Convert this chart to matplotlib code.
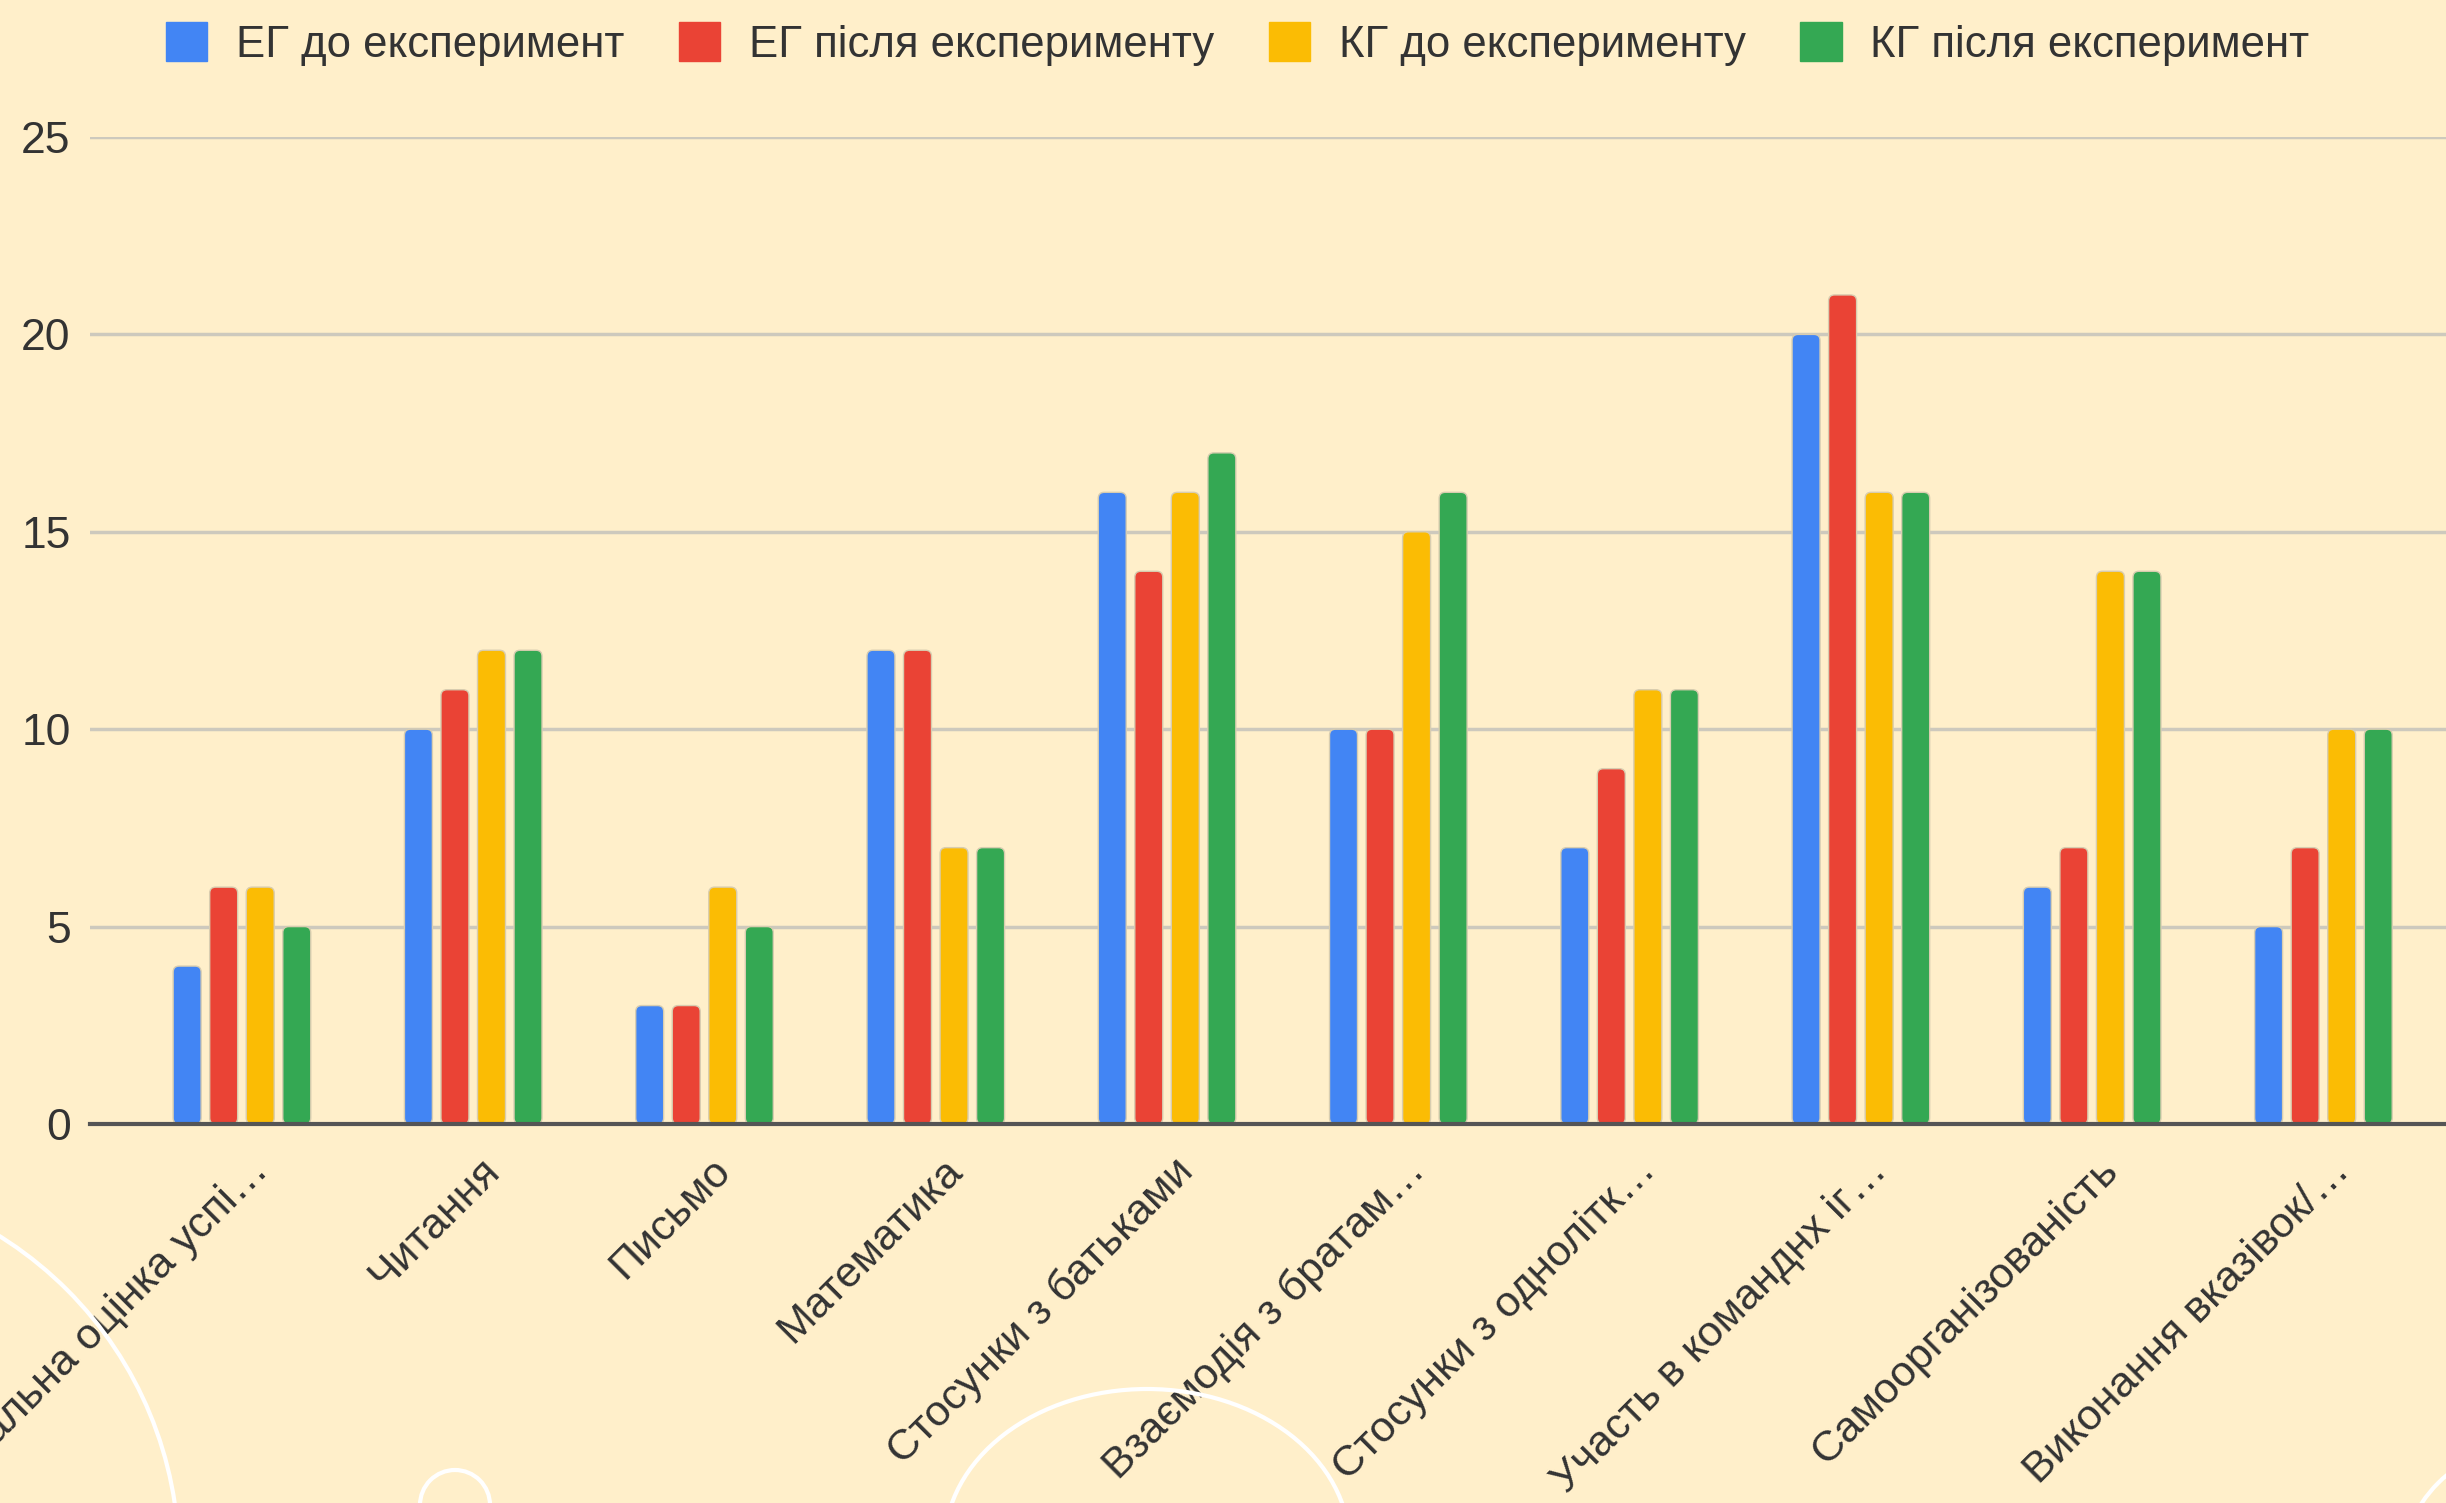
import matplotlib
matplotlib.use("Agg")
import matplotlib.pyplot as plt
import matplotlib.transforms as mtransforms
from matplotlib.patches import FancyBboxPatch, Arc
import numpy as np

categories = [
    "Загальна оцінка успі…",
    "Читання",
    "Письмо",
    "Математика",
    "Стосунки з батьками",
    "Взаємодія з братам…",
    "Стосунки з однолітк…",
    "Участь в командн\u0445 іг…",
    "Самоорганізованість",
    "Виконання вказівок/…",
]
series_names = ["ЕГ до експеримент", "ЕГ після експерименту",
                "КГ до експерименту", "КГ після експеримент"]
eg_before = [4, 10, 3, 12, 16, 10, 7, 20, 6, 5]
eg_after = [6, 11, 3, 12, 14, 10, 9, 21, 7, 7]
kg_before = [6, 12, 6, 7, 16, 15, 11, 16, 14, 10]
kg_after = [5, 12, 5, 7, 17, 16, 11, 16, 14, 10]
y_ticks = [0, 5, 10, 15, 20, 25]

colors = ["#4285F4", "#EA4335", "#FBBC04", "#34A853"]
bg = "#FFEFCA"

plt.rcParams['font.family'] = ['Liberation Sans', 'DejaVu Sans']

W, H = 2446, 1503
fig = plt.figure(figsize=(W / 100, H / 100), dpi=100, facecolor=bg)
ax_left = 90 / W
ax_bottom = 1 - 1124 / H
ax_top = 1 - 137 / H
ax = fig.add_axes([ax_left, ax_bottom, 1 - ax_left, ax_top - ax_bottom])
ax.set_facecolor(bg)

x = np.arange(len(categories))
bw = 0.121
step = 0.158
offsets = [-1.5 * step, -0.5 * step, 0.5 * step, 1.5 * step]
all_series = [eg_before, eg_after, kg_before, kg_after]

ax.set_xlim(-0.657, 9.53)
ax.set_ylim(0, 25)

# pixel scale for rounded corners
px_x = (ax.get_position().width * W) / (9.53 + 0.657)
px_y = (ax.get_position().height * H) / 25
rad = 6 / px_x
aspect = (6 / px_y) / rad

for vals, off, c, name in zip(all_series, offsets, colors, series_names):
    bars = ax.bar(x + off, vals, width=bw, color=c, label=name, zorder=3)
    for r in bars:
        r.set_visible(False)
        p = FancyBboxPatch((r.get_x(), r.get_y()), r.get_width(), r.get_height(),
                           boxstyle=f"round,pad=0,rounding_size={rad}",
                           mutation_aspect=aspect, facecolor=c,
                           edgecolor="#d8cdb0", linewidth=1.0, zorder=3)
        ax.add_patch(p)

ax.set_yticks(y_ticks)
ax.set_yticklabels([str(v) for v in y_ticks])
ax.tick_params(axis='y', length=0, pad=14, labelsize=32, labelcolor="#333333")
ax.grid(axis='y', color="#cdc9bd", linewidth=2.5, zorder=0)
ax.set_axisbelow(True)
for s in ["top", "right", "left"]:
    ax.spines[s].set_visible(False)
ax.spines["bottom"].set_color("#555555")
ax.spines["bottom"].set_linewidth(3)
ax.spines["bottom"].set_zorder(4)

ax.set_xticks(x)
ax.set_xticklabels(categories, rotation=45, ha='right', va='top',
                   rotation_mode='anchor', fontsize=31, color="#333333")
ax.tick_params(axis='x', length=0, pad=19)
offset = mtransforms.ScaledTranslation(6 / 100, 0, fig.dpi_scale_trans)
for lbl in ax.get_xticklabels():
    lbl.set_transform(lbl.get_transform() + offset)

leg = fig.legend(handles=[plt.Rectangle((0, 0), 1, 1, color=c) for c in colors],
                 labels=series_names, loc='center', bbox_to_anchor=(0.506, 1 - 44 / H),
                 ncol=4, frameon=False, fontsize=31.5, handlelength=0.95, handleheight=1.0,
                 handletextpad=0.65, columnspacing=1.25, labelcolor="#333333")

# decorative white curves
def fig_arc(cx, cy, w, h, t1, t2):
    a = Arc((cx / W, 1 - cy / H), w / W, h / H, theta1=t1, theta2=t2,
            transform=fig.transFigure, color="white", linewidth=3, zorder=1)
    fig.add_artist(a)

fig_arc(-203, 1560, 764, 764, 0, 90)
fig_arc(455, 1505, 70, 70, 0, 180)
fig_arc(1147, 1545, 405, 312, 0, 180)
fig_arc(2530, 1575, 260, 260, 90, 180)

fig.savefig("out.png", dpi=100, facecolor=bg)
